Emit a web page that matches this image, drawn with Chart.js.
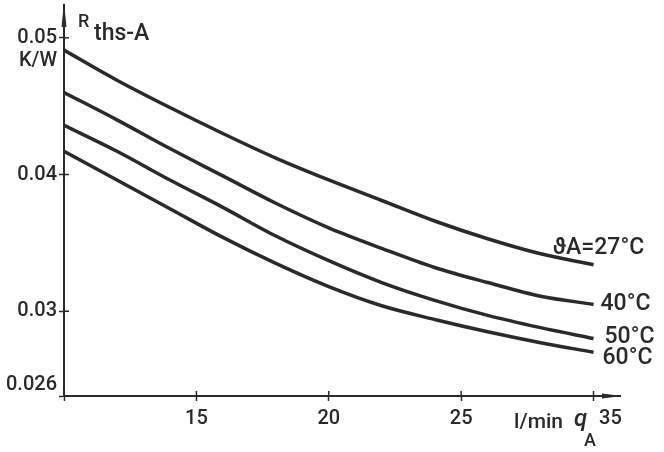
<!DOCTYPE html>
<html>
<head>
<meta charset="utf-8">
<script src="https://cdn.jsdelivr.net/npm/chart.js@4.4.0/dist/chart.umd.min.js"></script>
<style>
    html, body { margin: 0; padding: 0; background: #fff; }
    #wrap { width: 664px; height: 452px; }
</style>
</head>
<body>
<div id="wrap"><canvas id="rthChart" width="664" height="452"></canvas></div>
<script>
// flow q_A in l/min (x positions along the axis)
const flow = [10, 12, 14, 16, 18, 20, 22, 24, 26, 28, 30];

// R_ths-A in K/W
const r27 = [0.0491, 0.0469, 0.0449, 0.0430, 0.0412, 0.0396, 0.0381, 0.0366, 0.0353, 0.0342, 0.0334];
const r40 = [0.0460, 0.0440, 0.0419, 0.0399, 0.0379, 0.0361, 0.0346, 0.0332, 0.0321, 0.0311, 0.0305];
const r50 = [0.0436, 0.0417, 0.0396, 0.0376, 0.0355, 0.0337, 0.0321, 0.0308, 0.0297, 0.0288, 0.0280];
const r60 = [0.0417, 0.0396, 0.0375, 0.0354, 0.0335, 0.0318, 0.0304, 0.0294, 0.0285, 0.0277, 0.0270];

const seriesLabels = ['\u03D1A=27\u00B0C', '40\u00B0C', '50\u00B0C', '60\u00B0C'];

// axis ticks as printed on the original
const xTickValues = [10, 15, 20, 25, 30];
const xTickLabels = ['', '15', '20', '25', '\u2007\u2007\u200735'];
const yTickValues = [0.0238, 0.03, 0.04, 0.05];
const yTickLabels = [['0.026', ''], '0.03', '0.04', ['', '0.05', 'K/W']];

const ink = '#2a2a2a';
const fontFamily = 'Roboto';

function toPoints(ys) {
    return flow.map((x, i) => ({ x: x, y: ys[i] }));
}

// extra drawing: arrows, inner tick halves, axis titles, curve labels
const decorations = {
    id: 'decorations',
    afterDraw(chart) {
        const ctx = chart.ctx;
        const area = chart.chartArea;
        const xs = chart.scales.x;
        const ys = chart.scales.y;
        ctx.save();
        ctx.strokeStyle = ink;
        ctx.fillStyle = ink;
        ctx.lineWidth = 1.5;

        // inner halves of the tick crosses
        xTickValues.slice(1).forEach(v => {
            const px = xs.getPixelForValue(v);
            ctx.beginPath();
            ctx.moveTo(px, area.bottom);
            ctx.lineTo(px, area.bottom - 5);
            ctx.stroke();
        });
        yTickValues.slice(1).forEach(v => {
            const py = ys.getPixelForValue(v);
            ctx.beginPath();
            ctx.moveTo(area.left, py);
            ctx.lineTo(area.left + 5, py);
            ctx.stroke();
        });

        // arrow heads
        ctx.beginPath();
        ctx.moveTo(area.left, area.top - 3);
        ctx.lineTo(area.left - 2.5, area.top + 22);
        ctx.lineTo(area.left + 2.5, area.top + 22);
        ctx.closePath();
        ctx.fill();
        ctx.beginPath();
        ctx.moveTo(area.right + 2, area.bottom);
        ctx.lineTo(area.right - 18, area.bottom - 2.5);
        ctx.lineTo(area.right - 18, area.bottom + 2.5);
        ctx.closePath();
        ctx.fill();

        // y axis title R ths-A
        ctx.textBaseline = 'alphabetic';
        ctx.textAlign = 'left';
        ctx.font = '500 18px ' + fontFamily;
        ctx.fillText('R', area.left + 14, 27);
        ctx.font = '500 23px ' + fontFamily;
        ctx.fillText('ths-A', area.left + 30, 40);

        // x axis unit l/min q_A
        const xUnit = xs.getPixelForValue(27);
        ctx.font = '500 21px ' + fontFamily;
        ctx.fillText('l/min', xUnit, 428);
        ctx.font = 'italic 500 24px ' + fontFamily;
        ctx.fillText('q', xUnit + 60, 426);
        ctx.font = '500 18px ' + fontFamily;
        ctx.fillText('A', xUnit + 70, 446);

        // curve labels next to the line ends
        const offsets = [[-41, -17], [7, 0], [11, -1], [9, 6]];
        ctx.font = '500 23px ' + fontFamily;
        ctx.textBaseline = 'middle';
        chart.data.datasets.forEach((ds, i) => {
            const meta = chart.getDatasetMeta(i);
            const end = meta.data[meta.data.length - 1];
            ctx.fillText(seriesLabels[i], end.x + offsets[i][0], end.y + offsets[i][1]);
        });
        ctx.restore();
    }
};

function makeDataset(ys) {
    return {
        data: toPoints(ys),
        borderColor: ink,
        borderWidth: 3.5,
        pointRadius: 0,
        cubicInterpolationMode: 'monotone',
        fill: false
    };
}

Chart.defaults.color = ink;
Chart.defaults.font.family = fontFamily;
Chart.defaults.font.weight = '500';

const rthChart = new Chart(document.getElementById('rthChart'), {
    type: 'line',
    data: {
        datasets: [makeDataset(r27), makeDataset(r40), makeDataset(r50), makeDataset(r60)]
    },
    options: {
        responsive: false,
        animation: false,
        layout: { padding: { top: 5, right: 44, left: 0, bottom: 0 } },
        plugins: {
            legend: { display: false },
            tooltip: { enabled: false }
        },
        scales: {
            x: {
                type: 'linear',
                min: 10,
                max: 31,
                afterBuildTicks(scale) {
                    scale.ticks = xTickValues.map(v => ({ value: v }));
                },
                afterFit(scale) {
                    scale.height = 56;
                    scale.paddingLeft = 0;
                    scale.paddingRight = 0;
                },
                ticks: {
                    autoSkip: false,
                    maxRotation: 0,
                    padding: 6,
                    font: { size: 20, weight: '500' },
                    callback(val) {
                        return xTickLabels[xTickValues.indexOf(val)];
                    }
                },
                grid: {
                    drawOnChartArea: false,
                    tickLength: 5,
                    tickWidth: 1.5,
                    tickColor: ink
                },
                border: { color: ink, width: 2 }
            },
            y: {
                type: 'linear',
                min: 0.0238,
                max: 0.0524,
                afterBuildTicks(scale) {
                    scale.ticks = yTickValues.map(v => ({ value: v }));
                },
                afterFit(scale) {
                    scale.width = 64;
                    scale.paddingTop = 0;
                    scale.paddingBottom = 0;
                },
                ticks: {
                    autoSkip: false,
                    padding: 2,
                    font: { size: 20, weight: '500', lineHeight: 1.15 },
                    callback(val) {
                        return yTickLabels[yTickValues.indexOf(val)];
                    }
                },
                grid: {
                    drawOnChartArea: false,
                    tickLength: 5,
                    tickWidth: 1.5,
                    tickColor: ink
                },
                border: { color: ink, width: 2 }
            }
        }
    },
    plugins: [decorations]
});
</script>
</body>
</html>
